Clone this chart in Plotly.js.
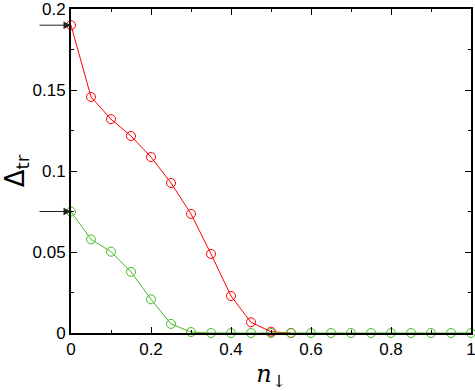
<!DOCTYPE html>
<html>
<head>
<meta charset="utf-8">
<script src="https://cdn.plot.ly/plotly-3.0.1.min.js"></script>
<style>
  body { margin: 0; background: white; }
  #graph { width: 475px; height: 391px; }
</style>
</head>
<body>
<div id="graph"></div>
<script>
// n_down values
const nDown = [0, 0.05, 0.1, 0.15, 0.2, 0.25, 0.3, 0.35, 0.4, 0.45, 0.5, 0.55];
const nDownGreen = [0, 0.05, 0.1, 0.15, 0.2, 0.25, 0.3, 0.35, 0.4, 0.45, 0.5, 0.55,
                    0.6, 0.65, 0.7, 0.75, 0.8, 0.85, 0.9, 0.95, 1.0];

// gap values
const deltaRed = [0.190, 0.1457, 0.132, 0.1216, 0.1086, 0.0926, 0.0735, 0.0488, 0.0228, 0.0066, 0.0008, 0];
const deltaGreen = [0.0749, 0.0578, 0.0502, 0.0377, 0.0208, 0.0056, 0.0006, 0, 0, 0, 0, 0,
                    0, 0, 0, 0, 0, 0, 0, 0, 0];

// tick labels
const xTicks = [0, 0.2, 0.4, 0.6, 0.8, 1];
const xTickText = ['0', '0.2', '0.4', '0.6', '0.8', '1'];
const yTicks = [0, 0.05, 0.1, 0.15, 0.2];
const yTickText = ['0', '0.05', '0.1', '0.15', '0.2'];

// arrow marks on the y axis
const arrowY = [0.19, 0.075];

const tickFont = { family: 'Liberation Sans, Arial, sans-serif', size: 17, color: 'black' };

const data = [{
    x: nDown, y: deltaRed,
    mode: 'lines+markers', type: 'scatter',
    line: { color: '#ff0000', width: 1 },
    marker: { symbol: 'circle-open', size: 9, color: '#ff0000', line: { width: 1 } },
    cliponaxis: false
}, {
    x: nDownGreen, y: deltaGreen,
    mode: 'lines+markers', type: 'scatter',
    line: { color: '#44bb22', width: 1 },
    marker: { symbol: 'circle-open', size: 9, color: '#44bb22', line: { width: 1 } },
    cliponaxis: false
}];

Plotly.newPlot('graph', data, {
    width: 475, height: 391,
    margin: { l: 71, r: 4, t: 9, b: 58 },
    showlegend: false,
    plot_bgcolor: 'white',
    paper_bgcolor: 'white',
    xaxis: {
        range: [0, 1], tickvals: xTicks, ticktext: xTickText,
        ticks: 'inside', ticklen: 6, tickcolor: 'black',
        minor: { dtick: 0.1, ticks: 'inside', ticklen: 3, tickcolor: 'black' },
        showline: true, linecolor: 'black', linewidth: 2, mirror: 'ticks',
        showgrid: false, zeroline: false, automargin: false,
        ticklabeloverflow: 'allow',
        tickfont: tickFont,
        title: { text: '<i>n</i><sub>↓</sub>', font: { family: 'DejaVu Serif, serif', size: 24, color: 'black' }, standoff: 8 }
    },
    yaxis: {
        range: [0, 0.2], tickvals: yTicks, ticktext: yTickText,
        ticks: 'inside', ticklen: 6, tickcolor: 'black',
        minor: { dtick: 0.025, ticks: 'inside', ticklen: 3, tickcolor: 'black' },
        showline: true, linecolor: 'black', linewidth: 2, mirror: 'ticks',
        showgrid: false, zeroline: false, automargin: false,
        ticklabeloverflow: 'allow',
        tickfont: tickFont,
        title: { text: 'Δ<sub>tr</sub>', font: { family: 'DejaVu Sans, sans-serif', size: 26, color: 'black' }, standoff: 2 }
    },
    annotations: arrowY.map(v => ({
        x: 0, y: v, xref: 'x', yref: 'y',
        text: '', showarrow: true,
        arrowhead: 2, arrowsize: 1.5, arrowwidth: 1, arrowcolor: '#222',
        ax: -33, ay: 0
    }))
}, { displayModeBar: false });
</script>
</body>
</html>
